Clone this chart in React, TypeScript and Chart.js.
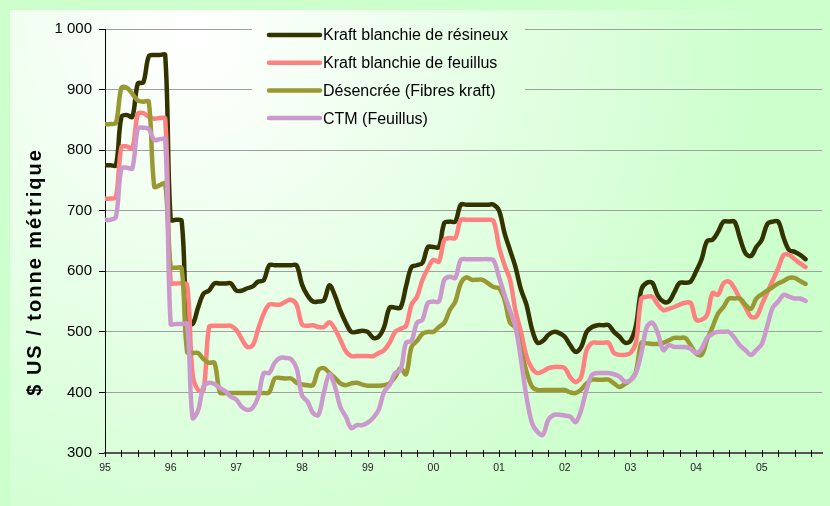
import React, { useEffect, useRef } from "react";
import { Chart, registerables } from "chart.js";

Chart.register(...registerables);

// Monthly prices, Jan 1995 .. Sep 2005 (index 0 = Jan 95)
const yearLabels = ["95", "96", "97", "98", "99", "00", "01", "02", "03", "04", "05"];

const resineux = [
  775, 775, 775, 855, 858, 855, 910, 912, 955, 957, 957, 957,
  685, 685, 683, 520, 513, 540, 563, 568, 580, 580, 580, 580,
  568, 568, 572, 575, 583, 585, 610, 610, 610, 610, 610, 610,
  578, 560, 550, 550, 552, 577, 560, 535, 515, 500, 500, 502,
  500, 490, 492, 508, 540, 540, 540, 575, 607, 610, 614, 640,
  640, 640, 680, 682, 682, 710, 710, 710, 710, 710, 710, 710,
  700, 663, 635, 607, 570, 545, 505, 482, 485, 495, 500, 498,
  492, 478, 467, 475, 500, 508, 511, 511, 511, 500, 492, 482,
  485, 510, 570, 581, 581, 560, 550, 550, 565, 581, 581, 583,
  600, 620, 650, 652, 665, 682, 682, 682, 655, 630, 625, 640,
  652, 678, 682, 682, 655, 635, 632, 627, 620,
];

const feuillus = [
  720, 720, 722, 805, 806, 803, 860, 861, 855, 852, 853, 852,
  581, 580, 580, 578, 430, 404, 404, 508, 510, 510, 510, 510,
  503, 488, 475, 478, 505, 530, 545, 545, 545, 550, 553, 545,
  512, 510, 511, 508, 508, 516, 505, 487, 468, 460, 460, 460,
  460, 460, 465, 470, 482, 500, 505, 510, 545, 558, 586, 605,
  619, 616, 652, 655, 655, 685, 685, 685, 685, 685, 685, 683,
  640, 610, 586, 535, 500, 460, 440, 432, 435, 440, 442, 442,
  440, 425, 417, 426, 470, 482, 482, 482, 482, 465, 462, 462,
  465, 482, 555, 558, 558, 545, 536, 538, 541, 545, 548, 548,
  520, 520, 528, 564, 561, 580, 583, 572, 555, 541, 525, 525,
  545, 565, 585, 605, 627, 627, 620, 613, 607,
];

const desencree = [
  843, 843, 845, 903, 903, 893, 882, 880, 880, 740, 742, 745,
  607, 606, 605, 467, 465, 465, 455, 449, 449, 400, 399, 399,
  399, 399, 399, 399, 399, 399, 400, 423, 424, 423, 423, 416,
  413, 412, 412, 437, 440, 432, 424, 415, 412, 415, 416, 413,
  411, 411, 411, 412, 415, 425, 440, 430, 475, 485, 497, 500,
  500, 508, 515, 536, 550, 580, 590, 586, 586, 586, 580, 574,
  572, 553, 515, 507, 470, 435, 410, 404, 404, 404, 404, 404,
  404, 400, 399, 405, 415, 421, 421, 421, 421, 415, 409, 414,
  420, 434, 482, 481, 480, 480, 482, 486, 490, 490, 490, 478,
  464, 462, 487, 508, 530, 541, 555, 555, 555, 545, 538, 555,
  562, 568, 574, 580, 584, 589, 589, 584, 579,
];

const ctm = [
  685, 685, 690, 770, 771, 770, 836, 837, 835, 817, 818, 818,
  513, 513, 513, 513, 358, 370, 410, 416, 414, 407, 402, 393,
  388, 376, 371, 375, 393, 432, 432, 449, 457, 457, 455, 440,
  395, 385, 366, 363, 400, 430, 410, 376, 360, 341, 346, 346,
  350, 358, 371, 401, 412, 432, 437, 482, 485, 515, 520, 548,
  550, 550, 586, 591, 589, 619, 620, 620, 620, 620, 620, 618,
  590, 561, 535, 508, 454, 393, 350, 335, 330, 355, 363, 363,
  362, 360, 351, 371, 405, 429, 432, 432, 432, 430, 426, 418,
  420, 432, 465, 508, 515, 498, 470, 478, 475, 475, 475, 472,
  465, 472, 490, 497, 500, 500, 500, 490, 478, 470, 462, 470,
  480, 510, 540, 550, 561, 558, 555, 555, 551,
];

const seriesNames = [
  "Kraft blanchie de résineux",
  "Kraft blanchie de feuillus",
  "Désencrée (Fibres kraft)",
  "CTM (Feuillus)",
];
const seriesValues = [resineux, feuillus, desencree, ctm];
const seriesColors = ["#333300", "#ff8080", "#999933", "#cc99cc"];

const yTitle = "$ US / tonne métrique";
const FONT = "Arial, 'Liberation Sans', sans-serif";

function makeBg(ctx: CanvasRenderingContext2D) {
  const g = ctx.createRadialGradient(190, 35, 0, 190, 35, 580);
  g.addColorStop(0, "#ffffff");
  g.addColorStop(0.1, "#fbfffb");
  g.addColorStop(1, "#ccffcc");
  return g;
}

const decorPlugin = {
  id: "decor",
  beforeDraw(chart: any) {
    const ctx = chart.ctx as CanvasRenderingContext2D;
    ctx.save();
    ctx.fillStyle = "#ccffcc";
    ctx.fillRect(0, 0, chart.width, chart.height);
    ctx.fillStyle = makeBg(ctx);
    ctx.fillRect(10, 10, chart.width - 10, chart.height - 10);
    ctx.restore();
  },
  afterDraw(chart: any) {
    const ctx = chart.ctx as CanvasRenderingContext2D;
    const xs = chart.scales.x;
    ctx.save();
    // x tick marks crossing the axis
    ctx.strokeStyle = "#000";
    ctx.lineWidth = 1;
    xs.ticks.forEach((t: any) => {
      const px = Math.round(xs.getPixelForValue(t.value)) + 0.5;
      ctx.beginPath();
      ctx.moveTo(px, xs.top - 3);
      ctx.lineTo(px, xs.top + 4);
      ctx.stroke();
    });
    // y title
    ctx.save();
    ctx.translate(35, 272);
    ctx.rotate(-Math.PI / 2);
    ctx.font = `bold 20px ${FONT}`;
    (ctx as any).letterSpacing = "2px";
    ctx.fillStyle = "#000";
    ctx.textAlign = "center";
    ctx.textBaseline = "middle";
    ctx.fillText(yTitle, 0, 0);
    (ctx as any).letterSpacing = "0px";
    ctx.restore();
    // legend box
    ctx.fillStyle = makeBg(ctx);
    ctx.fillRect(252, 14, 273, 128);
    seriesNames.forEach((name, i) => {
      const y = 35 + i * 27.7;
      ctx.strokeStyle = seriesColors[i];
      ctx.lineWidth = 4.5;
      ctx.lineCap = "round";
      ctx.beginPath();
      ctx.moveTo(269, y);
      ctx.lineTo(320, y);
      ctx.stroke();
      ctx.fillStyle = "#000";
      ctx.font = `16px ${FONT}`;
      ctx.textAlign = "left";
      ctx.textBaseline = "middle";
      ctx.fillText(name, 323, y + 1);
    });
    ctx.restore();
  },
};

export default function App() {
  const ref = useRef<HTMLCanvasElement>(null);
  useEffect(() => {
    if (!ref.current) return;
    const datasets = seriesValues.map((vals, i) => ({
      label: seriesNames[i],
      data: vals.map((v, m) => ({ x: m, y: v })),
      borderColor: seriesColors[i],
      backgroundColor: seriesColors[i],
      borderWidth: 4.5,
      pointRadius: 0,
      tension: 0.35,
      fill: false,
      borderCapStyle: "round" as const,
      borderJoinStyle: "round" as const,
    })).reverse();
    const chart = new Chart(ref.current, {
      type: "line",
      data: { datasets },
      plugins: [decorPlugin],
      options: {
        animation: false,
        responsive: false,
        maintainAspectRatio: false,
        layout: { padding: { left: 0, right: 8, top: 29, bottom: 0 } },
        plugins: { legend: { display: false }, tooltip: { enabled: false } },
        scales: {
          x: {
            type: "linear",
            min: 0,
            max: 131,
            afterFit(scale: any) {
              scale.height = 53;
            },
            grid: { display: true, drawOnChartArea: false, drawTicks: false },
            border: { display: true, color: "#555555", width: 2 },
            ticks: {
              stepSize: 3,
              includeBounds: false,
              autoSkip: false,
              maxRotation: 0,
              padding: 9,
              color: "#222",
              font: { family: FONT, size: 10.5 },
              callback: (v: any) => (Number(v) % 12 === 0 ? yearLabels[Number(v) / 12] : ""),
            },
          },
          y: {
            min: 300,
            max: 1000,
            afterFit(scale: any) {
              scale.width = 105;
            },
            grid: { color: "#a0a0a0", lineWidth: 1, tickColor: "#000", tickLength: 6 },
            border: { display: true, color: "#000", width: 1 },
            ticks: {
              stepSize: 100,
              padding: 7,
              color: "#000",
              font: { family: FONT, size: 15 },
              callback: (v: any) => (Number(v) === 1000 ? "1 000" : String(v)),
            },
          },
        },
      },
    });
    return () => chart.destroy();
  }, []);
  return (
    <div style={{ position: "fixed", left: 0, top: 0, width: 830, height: 506 }}>
      <canvas ref={ref} width={830} height={506} style={{ display: "block" }} />
    </div>
  );
}
